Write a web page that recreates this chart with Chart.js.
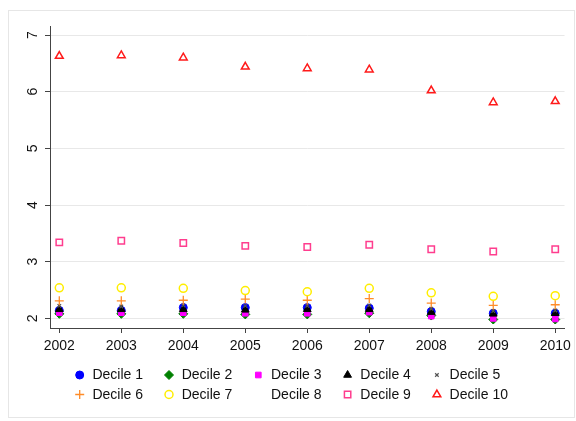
<!DOCTYPE html>
<html>
<head>
<meta charset="utf-8">
<script src="https://cdn.jsdelivr.net/npm/chart.js@4/dist/chart.umd.min.js"></script>
<style>
  html, body { margin: 0; padding: 0; background: #fff; }
  #c { display: block; }
</style>
</head>
<body>
<canvas id="c" width="576" height="421"></canvas>
<script>
const years = [2002, 2003, 2004, 2005, 2006, 2007, 2008, 2009, 2010];
const yTicks = [2, 3, 4, 5, 6, 7];
const seriesNames = ['Decile 1','Decile 2','Decile 3','Decile 4','Decile 5','Decile 6','Decile 7','Decile 8','Decile 9','Decile 10'];
const decile1  = [2.14, 2.14, 2.19, 2.19, 2.19, 2.18, 2.12, 2.09, 2.09];
const decile2  = [2.08, 2.08, 2.08, 2.07, 2.07, 2.09, 2.05, 1.98, 1.98];
const decile3  = [2.10, 2.10, 2.10, 2.09, 2.09, 2.11, 2.04, 2.00, 1.99];
const decile4  = [2.16, 2.16, 2.16, 2.15, 2.16, 2.16, 2.11, 2.08, 2.09];
const decile5  = [2.22, 2.21, 2.23, 2.22, 2.22, 2.23, 2.17, 2.13, 2.14];
const decile6  = [2.31, 2.31, 2.32, 2.34, 2.32, 2.35, 2.27, 2.23, 2.24];
const decile7  = [2.54, 2.54, 2.53, 2.49, 2.47, 2.53, 2.45, 2.39, 2.40];
const decile8  = [2.75, 2.76, 2.74, 2.70, 2.68, 2.74, 2.65, 2.58, 2.60];
const decile9  = [3.34, 3.37, 3.33, 3.28, 3.26, 3.30, 3.22, 3.18, 3.22];
const decile10 = [6.63, 6.64, 6.60, 6.44, 6.41, 6.39, 6.02, 5.81, 5.83];

const seriesValues = [decile1, decile2, decile3, decile4, decile5, decile6, decile7, decile8, decile9, decile10];
const styles = [
  { pointStyle: 'circle',   bg: '#0000ff', border: '#0000ff', r: 4,   bw: 1 },
  { pointStyle: 'rectRot',  bg: '#008000', border: '#008000', r: 4.5, bw: 1 },
  { pointStyle: 'rect',     bg: '#ff00ff', border: '#ff00ff', r: 4,   bw: 1 },
  { pointStyle: 'triangle', bg: '#000000', border: '#000000', r: 4.5, bw: 1 },
  { pointStyle: 'crossRot', bg: '#555555', border: '#555555', r: 2.5, bw: 1.2 },
  { pointStyle: 'cross',    bg: '#ff8c28', border: '#ff8c28', r: 4.5, bw: 1.3 },
  { pointStyle: 'circle',   bg: 'rgba(0,0,0,0)', border: '#ffee00', r: 4,   bw: 1.5 },
  { pointStyle: 'circle',   bg: 'rgba(0,0,0,0)', border: 'rgba(0,0,0,0)', r: 0, bw: 0 },
  { pointStyle: 'rect',     bg: 'rgba(0,0,0,0)', border: '#ff3d8e', r: 4.5, bw: 1.5 },
  { pointStyle: 'triangle', bg: 'rgba(0,0,0,0)', border: '#ff1a1a', r: 4.5, bw: 1.5 }
];

const datasets = seriesNames.map((name, i) => ({
  label: name,
  data: years.map((yr, j) => ({ x: yr, y: seriesValues[i][j] })),
  pointStyle: styles[i].pointStyle,
  backgroundColor: styles[i].bg,
  borderColor: styles[i].border,
  pointRadius: styles[i].r,
  pointHoverRadius: styles[i].r,
  pointBorderWidth: styles[i].bw,
  showLine: false,
  order: seriesNames.length - i
}));

const FONT = '"Liberation Sans", Arial, sans-serif';

const framePlugin = {
  id: 'frame',
  beforeDraw(chart) {
    const ctx = chart.ctx;
    ctx.save();
    ctx.fillStyle = '#ffffff';
    ctx.fillRect(0, 0, chart.width, chart.height);
    ctx.strokeStyle = '#e6e6e6';
    ctx.lineWidth = 1;
    ctx.strokeRect(8.5, 10.5, 566, 407);
    ctx.restore();
  }
};

const yLabelPlugin = {
  id: 'ylabels',
  afterDraw(chart) {
    const ctx = chart.ctx;
    const s = chart.scales.y;
    ctx.save();
    ctx.font = '14px ' + FONT;
    ctx.fillStyle = '#111';
    ctx.textAlign = 'center';
    ctx.textBaseline = 'middle';
    yTicks.forEach(v => {
      const y = s.getPixelForValue(v);
      ctx.save();
      ctx.translate(33, y);
      ctx.rotate(-Math.PI / 2);
      ctx.fillText(String(v), 0, 0);
      ctx.restore();
    });
    ctx.restore();
  }
};

const legendPlugin = {
  id: 'gridLegend',
  afterDraw(chart) {
    const ctx = chart.ctx;
    ctx.save();
    ctx.font = '14px ' + FONT;
    ctx.textBaseline = 'middle';
    ctx.textAlign = 'left';
    chart.data.datasets.forEach((ds, i) => {
      const col = i % 5, row = Math.floor(i / 5);
      const x = 79.7 + 89.3 * col;
      const y = 375 + 19.5 * row;
      const st = styles[i];
      if (st.r > 0) {
        ctx.save();
        ctx.fillStyle = st.bg;
        ctx.strokeStyle = st.border;
        ctx.lineWidth = st.bw;
        Chart.helpers.drawPoint(ctx, { pointStyle: st.pointStyle, rotation: 0, radius: st.r, borderWidth: st.bw }, x, y);
        ctx.restore();
      }
      ctx.fillStyle = '#111';
      ctx.fillText(ds.label, x + 12.7, y + 0.5);
    });
    ctx.restore();
  }
};

new Chart(document.getElementById('c'), {
  type: 'scatter',
  data: { datasets },
  plugins: [framePlugin, yLabelPlugin, legendPlugin],
  options: {
    responsive: false,
    animation: false,
    layout: { padding: { top: 26, right: 11, left: 0, bottom: 0 } },
    plugins: { legend: { display: false }, tooltip: { enabled: false } },
    scales: {
      x: {
        type: 'linear',
        min: 2001.85,
        max: 2010.15,
        afterBuildTicks: s => { s.ticks = years.map(v => ({ value: v })); },
        afterFit: s => { s.height = 93; },
        border: { display: true, color: '#444', width: 1 },
        grid: { drawOnChartArea: false, drawTicks: true, tickLength: 5, tickColor: '#444', color: '#444' },
        ticks: {
          color: '#111',
          font: { family: FONT, size: 14 },
          padding: 5,
          maxRotation: 0,
          callback: v => String(v)
        }
      },
      y: {
        type: 'linear',
        min: 1.83,
        max: 7.16,
        afterBuildTicks: s => { s.ticks = yTicks.map(v => ({ value: v })); },
        afterFit: s => { s.width = 50; },
        border: { display: true, color: '#444', width: 1 },
        grid: { color: '#e8e8e8', lineWidth: 1, drawTicks: true, tickLength: 5, tickColor: '#444' },
        ticks: { display: false }
      }
    }
  }
});
</script>
</body>
</html>
